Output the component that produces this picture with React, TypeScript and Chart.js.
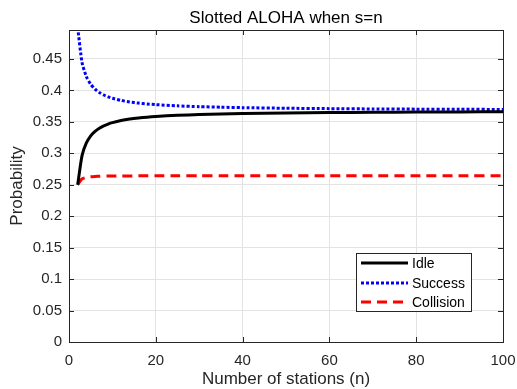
import React, { useEffect, useRef } from "react";
import Chart from "chart.js/auto";

const stations = [2, 3, 4, 5, 6, 7, 8, 9, 10, 12, 14, 16, 18, 20, 25, 30, 35, 40, 50, 60, 70, 80, 90, 100];
const idle = [0.25, 0.2963, 0.3164, 0.32768, 0.3349, 0.33992, 0.34361, 0.34644, 0.34868, 0.352, 0.35434, 0.35607, 0.35742, 0.35849, 0.3604, 0.36166, 0.36256, 0.36323, 0.36417, 0.36479, 0.36524, 0.36557, 0.36583, 0.36603];
const success = [0.5, 0.4444, 0.4219, 0.4096, 0.40188, 0.39657, 0.3927, 0.38974, 0.38742, 0.384, 0.38159, 0.37981, 0.37844, 0.37735, 0.37541, 0.37413, 0.37323, 0.37255, 0.3716, 0.37098, 0.37053, 0.3702, 0.36994, 0.36973];
const collision = [0.25, 0.2593, 0.2617, 0.26272, 0.26322, 0.26351, 0.2637, 0.26382, 0.2639, 0.26399, 0.26407, 0.26412, 0.26414, 0.26416, 0.26419, 0.2642, 0.26421, 0.26422, 0.26423, 0.26423, 0.26424, 0.26424, 0.26424, 0.26424];

const xTicks = [0, 20, 40, 60, 80, 100];
const yTicks = [0, 0.05, 0.1, 0.15, 0.2, 0.25, 0.3, 0.35, 0.4, 0.45];
const yTickLabels = ["0", "0.05", "0.1", "0.15", "0.2", "0.25", "0.3", "0.35", "0.4", "0.45"];
const seriesNames = ["Idle", "Success", "Collision"];
const titleText = "Slotted ALOHA when s=n";
const xTitle = "Number of stations (n)";
const yTitle = "Probability";

const FONT = "Liberation Sans, Arial, Helvetica, sans-serif";
const AXIS_COLOR = "#262626";

const styles = [
  { color: "#000000", dash: [] as number[], width: 3 },
  { color: "#0000ff", dash: [3, 2], width: 3 },
  { color: "#ff0000", dash: [10, 6], width: 3 },
];

const framePlugin = {
  id: "frame",
  afterDatasetsDraw(chart: any) {
    const { ctx, chartArea } = chart;
    const { left, right, top, bottom } = chartArea;
    const xs = chart.scales.x;
    const ys = chart.scales.y;
    ctx.save();
    ctx.strokeStyle = AXIS_COLOR;
    ctx.lineWidth = 1;
    ctx.setLineDash([]);
    ctx.strokeRect(Math.round(left) + 0.5, Math.round(top) + 0.5, Math.round(right - left), Math.round(bottom - top));
    const tl = 5;
    ctx.beginPath();
    for (const v of xTicks) {
      const px = Math.round(xs.getPixelForValue(v)) + 0.5;
      ctx.moveTo(px, bottom);
      ctx.lineTo(px, bottom - tl);
      ctx.moveTo(px, top);
      ctx.lineTo(px, top + tl);
    }
    for (const v of yTicks) {
      const py = Math.round(ys.getPixelForValue(v)) + 0.5;
      ctx.moveTo(left, py);
      ctx.lineTo(left + tl, py);
      ctx.moveTo(right, py);
      ctx.lineTo(right - tl, py);
    }
    ctx.stroke();
    ctx.restore();
  },
  afterDraw(chart: any) {
    const { ctx, chartArea } = chart;
    ctx.save();
    // title
    ctx.fillStyle = "#000000";
    ctx.font = `17px ${FONT}`;
    ctx.textAlign = "center";
    ctx.textBaseline = "middle";
    ctx.fillText(titleText, (chartArea.left + chartArea.right) / 2, 18);

    // legend
    const bx = 356, by = 253, bw = 115, bh = 58;
    ctx.fillStyle = "#ffffff";
    ctx.fillRect(bx, by, bw, bh);
    ctx.strokeStyle = AXIS_COLOR;
    ctx.lineWidth = 1;
    ctx.setLineDash([]);
    ctx.strokeRect(bx + 0.5, by + 0.5, bw, bh);
    const rows = [263, 283, 302];
    ctx.font = `14px ${FONT}`;
    ctx.textAlign = "left";
    ctx.textBaseline = "middle";
    seriesNames.forEach((name, i) => {
      const s = styles[i];
      ctx.strokeStyle = s.color;
      ctx.lineWidth = s.width;
      ctx.setLineDash(s.dash);
      ctx.beginPath();
      ctx.moveTo(361, rows[i]);
      ctx.lineTo(408, rows[i]);
      ctx.stroke();
      ctx.setLineDash([]);
      ctx.fillStyle = "#000000";
      ctx.fillText(name, 412, rows[i] + 1);
    });
    ctx.restore();
  },
};

export default function App() {
  const ref = useRef<HTMLCanvasElement | null>(null);
  useEffect(() => {
    if (!ref.current) return;
    const series = [idle, success, collision];
    const chart = new Chart(ref.current, {
      type: "line",
      data: {
        datasets: series.map((vals, i) => ({
          label: seriesNames[i],
          data: stations.map((n, j) => ({ x: n, y: vals[j] })),
          borderColor: styles[i].color,
          backgroundColor: styles[i].color,
          borderWidth: styles[i].width,
          borderDash: styles[i].dash,
          pointRadius: 0,
          tension: 0.2,
          fill: false,
          clip: 0,
        })),
      },
      options: {
        responsive: false,
        animation: false,
        layout: { padding: { top: 30, right: 14, left: 0, bottom: 0 } },
        plugins: {
          legend: { display: false },
          title: { display: false },
          tooltip: { enabled: false },
        },
        scales: {
          x: {
            type: "linear",
            min: 0,
            max: 100,
            afterBuildTicks: (scale: any) => {
              scale.ticks = xTicks.map((value) => ({ value }));
            },
            afterFit: (scale: any) => {
              scale.height = 47;
              scale.paddingLeft = 0;
              scale.paddingRight = 0;
            },
            ticks: {
              font: { family: FONT, size: 15 },
              color: AXIS_COLOR,
              padding: 10,
              maxRotation: 0,
              callback: (v: any) => String(v),
            },
            grid: { color: "#e3e3e3", drawTicks: false },
            border: { display: false },
            title: {
              display: true,
              text: xTitle,
              font: { family: FONT, size: 17, lineHeight: 1.1 },
              color: AXIS_COLOR,
              padding: { top: 0, bottom: 0 },
            },
          },
          y: {
            type: "linear",
            min: 0,
            max: 0.496,
            afterBuildTicks: (scale: any) => {
              scale.ticks = yTicks.map((value) => ({ value }));
            },
            afterFit: (scale: any) => {
              scale.width = 69;
            },
            ticks: {
              font: { family: FONT, size: 15 },
              color: AXIS_COLOR,
              padding: 7,
              callback: (_v: any, i: number) => yTickLabels[i],
            },
            grid: { color: "#e3e3e3", drawTicks: false },
            border: { display: false },
            title: {
              display: true,
              text: yTitle,
              font: { family: FONT, size: 17, lineHeight: 1.1 },
              color: AXIS_COLOR,
              padding: { top: 8, bottom: 0 },
            },
          },
        },
      },
      plugins: [framePlugin],
    });
    return () => chart.destroy();
  }, []);
  return (
    <div style={{ position: "fixed", left: 0, top: 0, width: 517, height: 389, background: "#fff" }}>
      <canvas ref={ref} width={517} height={389} style={{ width: 517, height: 389 }} />
    </div>
  );
}
